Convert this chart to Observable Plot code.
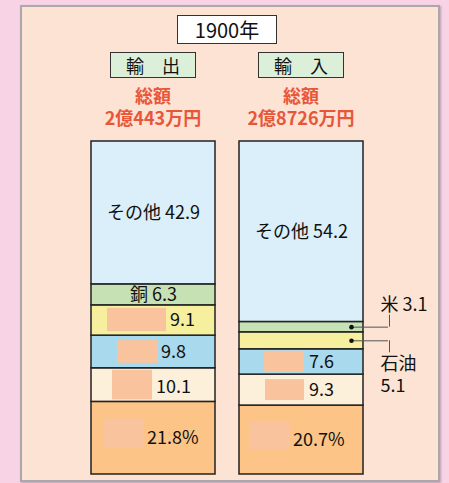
<!DOCTYPE html>
<html><head><meta charset="utf-8">
<script src="https://cdn.jsdelivr.net/npm/d3@7"></script>
<script src="https://cdn.jsdelivr.net/npm/@observablehq/plot@0.6"></script>
<style>
html,body{margin:0;padding:0;width:449px;height:483px;overflow:hidden;background:#f8d3e6;font-family:"Noto Sans CJK JP","Noto Sans",sans-serif;}
#panel{position:absolute;left:20px;top:5px;width:420px;height:477px;box-sizing:border-box;background:#fde3d4;border:2px solid #a9a9a9;box-shadow:1px 1px 2px rgba(0,0,0,.25);}
.box{position:absolute;box-sizing:border-box;border:1.5px solid #333;display:flex;align-items:center;justify-content:center;color:#111;line-height:1;}
.red{position:absolute;width:160px;height:22px;text-align:center;color:#e8563a;font-weight:700;font-size:18px;line-height:22px;white-space:nowrap;}
#chart{position:absolute;left:0;top:0;}
</style></head><body>
<div id="panel"></div>
<div id="title" class="box" style="left:177px;top:15px;width:100px;height:29px;background:#fff;font-size:20px"></div>
<div id="h0" class="box" style="left:110px;top:52px;width:86px;height:26px;background:#dcefd9;font-size:18px"></div>
<div id="h1" class="box" style="left:258px;top:52px;width:86px;height:26px;background:#dcefd9;font-size:18px"></div>
<div id="k0" class="red" style="left:73px;top:84px"></div>
<div id="k1" class="red" style="left:221px;top:84px"></div>
<div id="t0" class="red" style="left:73px;top:106px"></div>
<div id="t1" class="red" style="left:221px;top:106px"></div>
<div id="chart"></div>
<script>
const year = "1900年";
const sides = ["輸出", "輸入"];
const sideTitles = ["輸　出", "輸　入"];
const totalLabel = "総額";
const totals = ["2億443万円", "2億8726万円"];
const exportLabels = ["", "", "", "", "銅", "その他"];
const exportValues = [21.8, 10.1, 9.8, 9.1, 6.3, 42.9];
const importLabels = ["", "", "", "石油", "米", "その他"];
const importValues = [20.7, 9.3, 7.6, 5.1, 3.1, 54.2];
const palette = ["#fcc487", "#fdf0da", "#a9d9ec", "#f6ef9d", "#c6e1b4", "#daeff9"];
const coverColor = "#f8c39d";

document.getElementById("title").textContent = year;
sideTitles.forEach((s, i) => document.getElementById("h" + i).textContent = s);
totals.forEach((t, i) => {
  document.getElementById("k" + i).textContent = totalLabel;
  document.getElementById("t" + i).textContent = t;
});

function build(side, labels, values) {
  let acc = 0;
  return values.map((v, i) => {
    const r = {side, idx: i, key: side + "-" + i, label: labels[i], value: v, y1: acc, y2: acc + v};
    r.mid = (r.y1 + r.y2) / 2;
    acc += v;
    return r;
  });
}
const rows = [...build(sides[0], exportLabels, exportValues), ...build(sides[1], importLabels, importValues)];
const valText = d => d.value.toFixed(1) + (d.idx === 0 ? "%" : "");

// layout of the blank (covered) name boxes and the value label offsets
const covers = {
  "輸出-3": {l: 16, r: 49, t: 3, b: 4, dx: 16.5, dy: 0},
  "輸出-2": {l: 26, r: 57, t: 5, b: 5, dx: 7.5, dy: 0},
  "輸出-1": {l: 21, r: 63, t: 2, b: 2, dx: 2.5, dy: 2},
  "輸出-0": {l: 12, r: 72, t: 17, b: 26, dx: -6.5, dy: 0},
  "輸入-2": {l: 25, r: 59, t: 2, b: 2, dx: 7.6, dy: 0},
  "輸入-1": {l: 26, r: 59, t: 5, b: 5, dx: 7.6, dy: 0},
  "輸入-0": {l: 10, r: 73, t: 16, b: 25, dx: -8.4, dy: 0}
};

const inside = rows.filter(d => d.label && d.value >= 6);
const outside = rows.filter(d => d.label && d.value < 6).sort((a, b) => b.mid - a.mid);
const upper = outside[0], lower = outside[1];

const marks = [
  Plot.barY(rows, {x: "side", y1: "y1", y2: "y2", fill: "idx", stroke: "#222", strokeWidth: 1.5}),
  Plot.text(inside, {x: "side", y: "mid", text: d => `${d.label} ${d.value}`, fontSize: 18})
];
rows.filter(d => !d.label).forEach(d => {
  const c = covers[d.key];
  marks.push(Plot.barY([d], {x: "side", y1: "y1", y2: "y2", fill: coverColor, insetLeft: c.l, insetRight: c.r, insetTop: c.t, insetBottom: c.b}));
  marks.push(Plot.text([d], {x: "side", y: "mid", text: valText, textAnchor: "start", dx: c.dx, dy: c.dy, fontSize: 18}));
});
marks.push(
  Plot.ruleY(outside, {y: "mid", x1: "side", x2: "side", insetLeft: 112, insetRight: -25, stroke: "#555", strokeWidth: 1}),
  Plot.ruleX([upper], {x: "side", y1: "mid", y2: "mid", dx: 88, insetTop: -12, insetBottom: 0, stroke: "#555", strokeWidth: 1}),
  Plot.ruleX([lower], {x: "side", y1: "mid", y2: "mid", dx: 88, insetTop: 0, insetBottom: -12, stroke: "#555", strokeWidth: 1}),
  Plot.dot(outside, {x: "side", y: "mid", r: 2.3, fill: "#111", dx: 50}),
  Plot.text([upper], {x: "side", y: "mid", text: d => `${d.label} ${d.value}`, textAnchor: "start", dx: 79, dy: -22, fontSize: 18}),
  Plot.text([lower], {x: "side", y: "mid", text: "label", textAnchor: "start", dx: 79, dy: 23, fontSize: 18}),
  Plot.text([lower], {x: "side", y: "mid", text: d => String(d.value), textAnchor: "start", dx: 79, dy: 45, fontSize: 18})
);

const chart = Plot.plot({
  width: 449, height: 483,
  marginLeft: 90, marginRight: 85, marginTop: 141, marginBottom: 9,
  x: {domain: sides, paddingInner: 0.16, paddingOuter: 0, axis: null},
  y: {domain: [0, 100], axis: null},
  color: {type: "ordinal", domain: [0, 1, 2, 3, 4, 5], range: palette},
  style: {background: "transparent", fontFamily: '"Noto Sans CJK JP", "Noto Sans", sans-serif', fontSize: "18px", color: "#111", overflow: "visible"},
  marks
});
document.getElementById("chart").appendChild(chart);
</script>
</body></html>
